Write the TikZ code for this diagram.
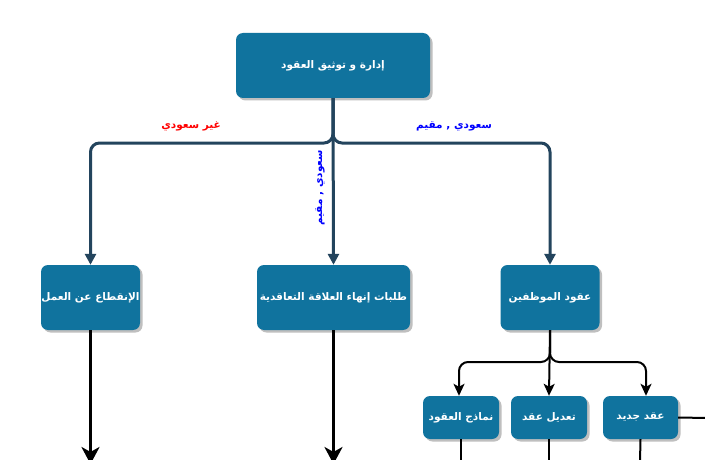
\documentclass[tikz,border=0pt]{standalone}
\usepackage{fontspec}
\newfontfamily\arabicfont[Script=Arabic]{DejaVu Sans}
\TeXXeTstate=1
\usetikzlibrary{arrows.meta,shadows}
\definecolor{boxblue}{HTML}{10739E}
\definecolor{linedark}{HTML}{23445D}
\tikzset{
  box/.style={draw=none, fill=boxblue, rounded corners=7pt, text=white,
    font=\arabicfont\bfseries\fontsize{10.5}{12}\selectfont, inner sep=0pt, align=center,
    drop shadow={shadow xshift=2.5pt, shadow yshift=-2.5pt, fill=black, opacity=0.25}},
  topline/.style={draw=linedark, line width=3pt, rounded corners=9pt},
  toparrow/.style={topline, -{Triangle[length=11pt,width=11pt]}},
  blackline/.style={draw=black, line width=2pt, rounded corners=9pt},
  blackarrow/.style={blackline, -{Stealth[length=12pt,width=11pt,inset=3pt]}},
  thickarrow/.style={draw=black, line width=3.2pt, -{Stealth[length=17pt,width=18pt,inset=5pt]}},
  lbl/.style={font=\arabicfont\bfseries\fontsize{10.5}{12}\selectfont, inner sep=0pt}
}
\begin{document}
\begin{tikzpicture}[x=1pt,y=-1pt]
\clip (0,0) rectangle (705,460);
\fill[white] (0,0) rectangle (705,460);
% nodes
\node[box, minimum width=194pt, minimum height=65pt] (top) at (333,65.5) {\beginR إدارة و توثيق العقود\endR};
\node[box, minimum width=99pt, minimum height=65pt] (left) at (90.5,297.5) {\beginR الإنقطاع عن العمل\endR};
\node[box, minimum width=153pt, minimum height=65pt] (mid) at (333.5,297.5) {\beginR طلبات إنهاء العلاقة التعاقدية\endR};
\node[box, minimum width=99pt, minimum height=65pt] (right) at (550,297.5) {\beginR عقود الموظفين\endR};
\node[box, minimum width=76pt, minimum height=43pt] (nm) at (461,417.5) {\beginR نماذج العقود\endR};
\node[box, minimum width=76pt, minimum height=43pt] (ta) at (549,417.5) {\beginR تعديل عقد\endR};
\node[box, minimum width=75pt, minimum height=43pt] (jd) at (640.5,417.5) {\beginR عقد جديد\endR};
% coordinates
\coordinate (j1) at (333,143);
\coordinate (j2) at (550,362);
\coordinate (eL) at (90.5,464);
\coordinate (eM) at (333.5,464);
\coordinate (eN) at (461,462);
\coordinate (eT) at (549,462);
\coordinate (eJ) at (640,462);
\coordinate (eR) at (707,418);
% top connectors
\draw[toparrow] (top.south) -- (j1) -| (left.north);
\draw[toparrow] (top.south) -- (j1) -| (right.north);
\draw[toparrow] (top.south) -- (mid.north);
% labels
\node[lbl, text=red] (l1) at (191,126) {\beginR غير سعودي\endR};
\node[lbl, text=blue] (l2) at (454,126) {\beginR سعودي , مقيم\endR};
\node[lbl, text=blue, rotate=90] (l3) at (320,188) {\beginR سعودي , مقيم\endR};
% lower connectors
\draw[blackarrow] (right.south) -- (j2) -| ([xshift=-2pt]nm.north);
\draw[blackarrow] (right.south) -- (j2) -| ([xshift=5.5pt]jd.north);
\draw[blackarrow] (right.south) -- (ta.north);
\draw[thickarrow] (left.south) -- (eL);
\draw[thickarrow] (mid.south) -- (eM);
\draw[blackline] (nm.south) -- (eN);
\draw[blackline] (ta.south) -- (eT);
\draw[blackline] (jd.south) -- (eJ);
\draw[blackline] (jd.east) -- (eR);
\end{tikzpicture}
\end{document}
